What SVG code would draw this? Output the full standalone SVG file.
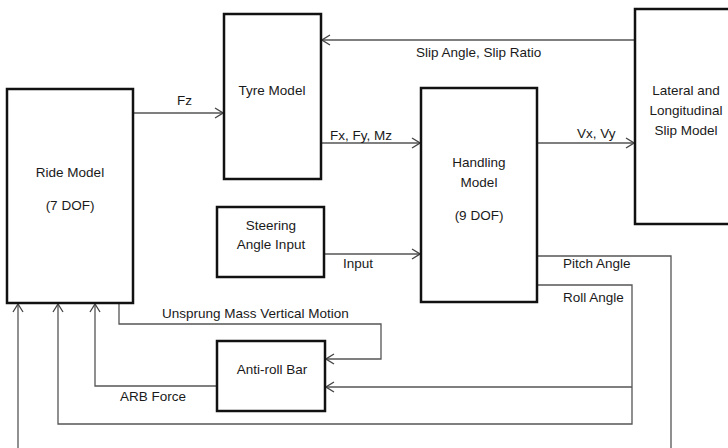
<svg xmlns="http://www.w3.org/2000/svg" width="728" height="448" viewBox="0 0 728 448">
<style>
.box{fill:#fff;stroke:#111;stroke-width:2.5}
.c{fill:none;stroke:#555;stroke-width:1.3}
.t{font-family:"Liberation Sans",Arial,sans-serif;font-size:13.5px;fill:#1a1a1a}
.m{text-anchor:middle}
</style>
<defs>
<marker id="a" markerWidth="10" markerHeight="12" refX="9" refY="6" orient="auto" markerUnits="userSpaceOnUse">
<path d="M1,1 L9,6 L1,11" fill="none" stroke="#444" stroke-width="1.3"/>
</marker>
</defs>
<rect width="728" height="448" fill="#fff"/>
<g id="connectors">
<path class="c" d="M133,113 H223" marker-end="url(#a)"/>
<path class="c" d="M634,40 H322" marker-end="url(#a)"/>
<path class="c" d="M321,143 H420" marker-end="url(#a)"/>
<path class="c" d="M537,143 H634" marker-end="url(#a)"/>
<path class="c" d="M324,254 H420" marker-end="url(#a)"/>
<path class="c" d="M537,256 H671 V460"/>
<path class="c" d="M18,460 V304" marker-end="url(#a)"/>
<path class="c" d="M537,285 H632 V424 H58 V304" marker-end="url(#a)"/>
<path class="c" d="M632,387 H326" marker-end="url(#a)"/>
<path class="c" d="M119,303 V324 H381 V359 H326" marker-end="url(#a)"/>
<path class="c" d="M217,386 H95 V304" marker-end="url(#a)"/>
<text class="t" x="177" y="105">Fz</text>
<text class="t" x="416" y="57">Slip Angle, Slip Ratio</text>
<text class="t" x="330" y="140">Fx, Fy, Mz</text>
<text class="t" x="577" y="138">Vx, Vy</text>
<text class="t" x="343" y="268">Input</text>
<text class="t" x="563" y="268">Pitch Angle</text>
<text class="t" x="563" y="302">Roll Angle</text>
<text class="t" x="162" y="318">Unsprung Mass Vertical Motion</text>
<text class="t" x="120" y="401">ARB Force</text>
</g>
<g id="ride">
<rect class="box" x="7" y="89" width="126" height="214"/>
<text class="t m" x="70" y="177">Ride Model</text>
<text class="t m" x="70" y="210">(7 DOF)</text>
</g>
<g id="tyre">
<rect class="box" x="224" y="14" width="97" height="165"/>
<text class="t m" x="272" y="95">Tyre Model</text>
</g>
<g id="handling">
<rect class="box" x="421" y="88" width="116" height="214"/>
<text class="t m" x="479" y="167">Handling</text>
<text class="t m" x="479" y="187">Model</text>
<text class="t m" x="479" y="220">(9 DOF)</text>
</g>
<g id="slip">
<rect class="box" x="635" y="9" width="110" height="215"/>
<text class="t m" x="686" y="95">Lateral and</text>
<text class="t m" x="686" y="115">Longitudinal</text>
<text class="t m" x="686" y="135">Slip Model</text>
</g>
<g id="steering">
<rect class="box" x="217" y="207" width="107" height="70"/>
<text class="t m" x="271" y="230">Steering</text>
<text class="t m" x="271" y="249">Angle Input</text>
</g>
<g id="arb">
<rect class="box" x="217" y="341" width="108" height="70"/>
<text class="t m" x="272" y="374">Anti-roll Bar</text>
</g>
</svg>
